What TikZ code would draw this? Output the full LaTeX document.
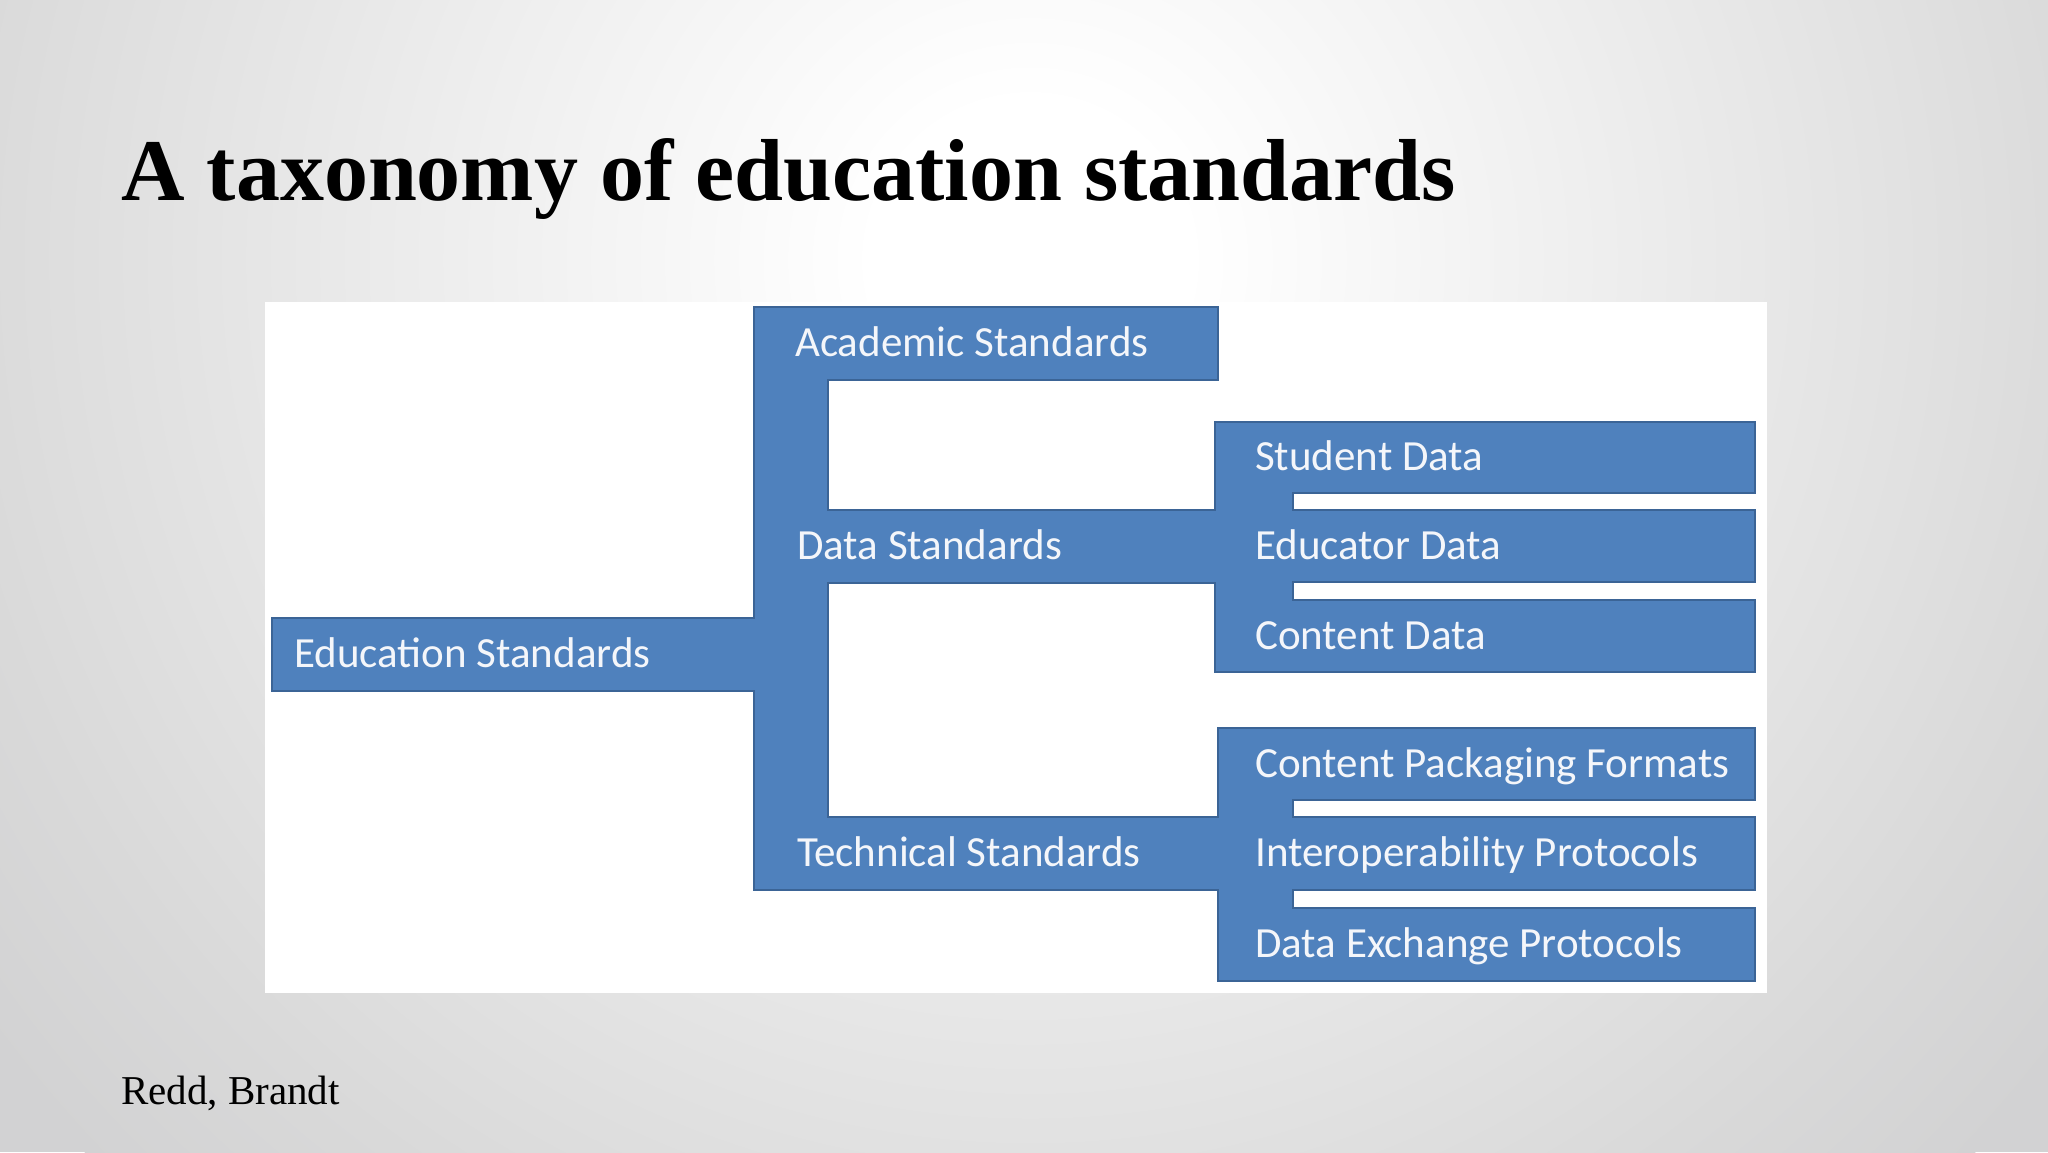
\documentclass[tikz,border=0pt]{standalone}
\usepackage{fontspec}
\setmainfont{Liberation Serif}
\newfontfamily\barfamily{Carlito}
\definecolor{barblue}{HTML}{4F81BD}
\definecolor{baredge}{HTML}{3B6496}
\definecolor{bgmid}{HTML}{D9D9D9}
\definecolor{bgout}{HTML}{D2D2D3}
\definecolor{lbltext}{HTML}{F4F6FA}
\pgfdeclareradialshading{slidebg}{\pgfpoint{0bp}{0bp}}{color(0bp)=(white); color(3bp)=(white); color(21bp)=(bgmid); color(25bp)=(bgout); color(50bp)=(bgout)}
\begin{document}
\begin{tikzpicture}[x=1pt,y=-1pt,
  bar/.style={rectangle, fill=barblue, draw=none, inner sep=0pt, anchor=north west, minimum height=73pt},
  lbl/.style={anchor=base west, inner sep=0pt, text=lbltext, font=\barfamily\fontsize{43}{49}\selectfont},
  trunk/.style={fill=barblue},
  edge/.style={draw=baredge, line width=2pt, line join=miter}]
\useasboundingbox (0,0) rectangle (2048,1152);
% background
\begin{scope}
  \clip (0,0) rectangle (2048,1152);
  \fill[bgout] (0,0) rectangle (2048,1152);
  \shade[shading=slidebg] (1030,260) circle (1300);
\end{scope}
% title and footer
\node[anchor=base west, inner sep=0pt, font=\bfseries\fontsize{88}{100}\selectfont] (title) at (121,200) {A taxonomy of education standards};
\node[anchor=base west, inner sep=0pt, font=\fontsize{41}{48}\selectfont] (author) at (121,1104) {Redd, Brandt};
% white picture area
\fill[white] (265,302) rectangle (1767,993);
% bars
\node[bar, minimum width=486pt] (edu) at (272,618) {};
\node[bar, minimum width=464pt] (acad) at (754,307) {};
\node[bar, minimum width=463pt] (data) at (754,510) {};
\node[bar, minimum width=466pt] (tech) at (754,817) {};
\node[bar, minimum width=540pt, minimum height=71pt] (stud) at (1215,422) {};
\node[bar, minimum width=540pt, minimum height=72pt] (educ) at (1215,510) {};
\node[bar, minimum width=540pt, minimum height=72pt] (cont) at (1215,600) {};
\node[bar, minimum width=537pt, minimum height=72pt] (cpf) at (1218,728) {};
\node[bar, minimum width=537pt] (interop) at (1218,817) {};
\node[bar, minimum width=537pt] (dep) at (1218,908) {};
% connecting trunks
\fill[trunk] (acad.north west) rectangle ([xshift=74pt]tech.south west);
\fill[trunk] (stud.north west) rectangle ([xshift=78pt]cont.south west);
\fill[trunk] (cpf.north west) rectangle ([xshift=75pt]dep.south west);
% outline of the whole shape
\draw[edge] (754,307) -- (1218,307) -- (1218,380) -- (828,380) -- (828,510) -- (1215,510)
  -- (1215,422) -- (1755,422) -- (1755,493) -- (1293,493) -- (1293,510) -- (1755,510)
  -- (1755,582) -- (1293,582) -- (1293,600) -- (1755,600) -- (1755,672) -- (1215,672)
  -- (1215,583) -- (828,583) -- (828,817) -- (1218,817) -- (1218,728) -- (1755,728)
  -- (1755,800) -- (1293,800) -- (1293,817) -- (1755,817) -- (1755,890) -- (1293,890)
  -- (1293,908) -- (1755,908) -- (1755,981) -- (1218,981) -- (1218,890) -- (754,890)
  -- (754,691) -- (272,691) -- (272,618) -- (754,618) -- cycle;
% labels
\node[lbl] (eduT) at ([xshift=22pt,yshift=-13pt]edu.west) {Education Standards};
\node[lbl] (acadT) at ([xshift=41pt,yshift=-13pt]acad.west) {Academic Standards};
\node[lbl] (dataT) at ([xshift=43pt,yshift=-13pt]data.west) {Data Standards};
\node[lbl] (techT) at ([xshift=43pt,yshift=-13pt]tech.west) {Technical Standards};
\node[lbl] (studT) at ([xshift=40pt,yshift=-13pt]stud.west) {Student Data};
\node[lbl] (educT) at ([xshift=40pt,yshift=-13pt]educ.west) {Educator Data};
\node[lbl] (contT) at ([xshift=40pt,yshift=-13pt]cont.west) {Content Data};
\node[lbl] (cpfT) at ([xshift=37pt,yshift=-13pt]cpf.west) {Content Packaging Formats};
\node[lbl] (interopT) at ([xshift=37pt,yshift=-13pt]interop.west) {Interoperability Protocols};
\node[lbl] (depT) at ([xshift=37pt,yshift=-13pt]dep.west) {Data Exchange Protocols};
\end{tikzpicture}
\end{document}
